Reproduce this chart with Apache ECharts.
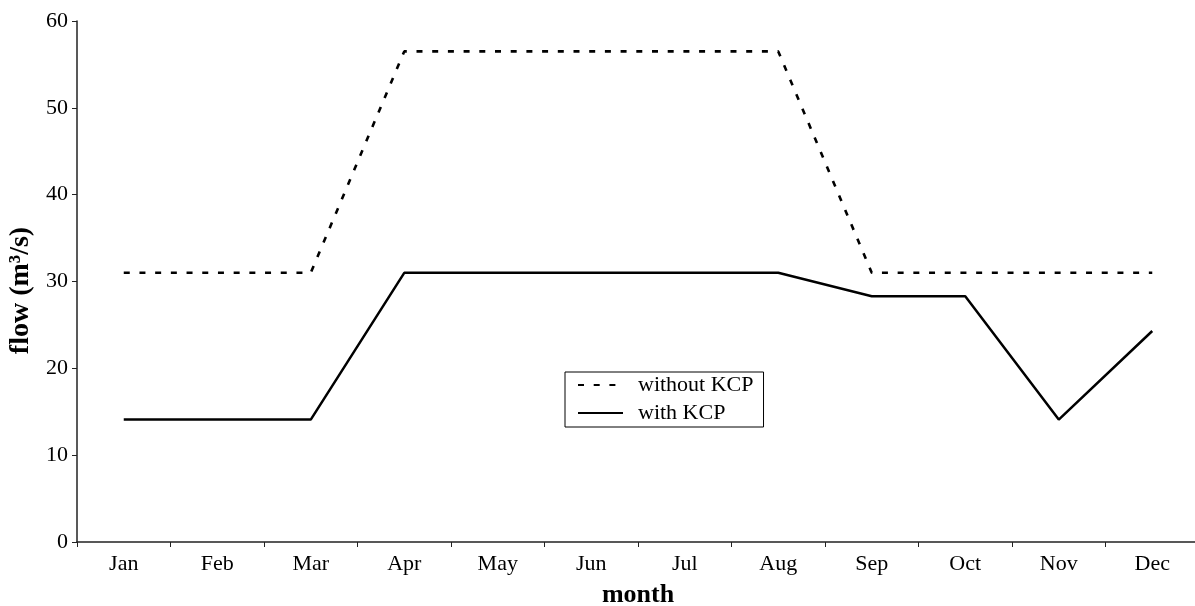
<!DOCTYPE html>
<html>
<head>
<meta charset="utf-8">
<script src="https://cdn.jsdelivr.net/npm/echarts@6/dist/echarts.min.js"></script>
<style>
html,body{margin:0;padding:0;background:#fff;}
#c{width:1195px;height:606px;}
</style>
</head>
<body>
<div id="c"></div>
<script>
var months = ['Jan','Feb','Mar','Apr','May','Jun','Jul','Aug','Sep','Oct','Nov','Dec'];
var withoutKCP = [31, 31, 31, 56.5, 56.5, 56.5, 56.5, 56.5, 31, 31, 31, 31];
var withKCP = [14.1, 14.1, 14.1, 31, 31, 31, 31, 31, 28.3, 28.3, 14.1, 24.3];
var yTicks = [0, 10, 20, 30, 40, 50, 60];

var font = 'Liberation Serif, Times New Roman, serif';
var chart = echarts.init(document.getElementById('c'), null, {renderer: 'canvas'});
chart.setOption({
  animation: false,
  backgroundColor: '#fff',
  textStyle: {fontFamily: font, color: '#000'},
  grid: {left: 77, top: 21, width: 1122, height: 521, containLabel: false, outerBoundsMode: 'none'},
  legend: {
    orient: 'vertical',
    left: 565,
    top: 372,
    padding: [2, 10, 3, 12],
    borderColor: '#000',
    borderWidth: 1,
    itemWidth: 45,
    itemHeight: 20,
    itemGap: 6,
    itemStyle: {opacity: 0},
    textStyle: {fontFamily: font, fontSize: 22, color: '#000', padding: [0, 0, 0, 10]},
    data: ['without KCP', 'with KCP']
  },
  xAxis: {
    type: 'category',
    data: months,
    boundaryGap: true,
    name: 'month',
    nameLocation: 'middle',
    nameGap: 40,
    nameTextStyle: {fontFamily: font, fontSize: 26, fontWeight: 'bold', color: '#000'},
    axisLine: {lineStyle: {color: '#222', width: 1.5}},
    axisTick: {show: true, length: 5, lineStyle: {color: '#222'}},
    axisLabel: {fontFamily: font, fontSize: 22, color: '#000', margin: 11},
    splitLine: {show: false}
  },
  yAxis: {
    type: 'value',
    min: yTicks[0],
    max: yTicks[yTicks.length - 1],
    interval: 10,
    name: 'flow (m³/s)',
    nameLocation: 'middle',
    nameGap: 40,
    nameTextStyle: {fontFamily: font, fontSize: 28, fontWeight: 'bold', color: '#000', padding: [0, 18, 0, 0]},
    axisLine: {show: true, lineStyle: {color: '#222', width: 1.5}},
    axisTick: {show: true, length: 5, lineStyle: {color: '#222'}},
    axisLabel: {fontFamily: font, fontSize: 22, color: '#000', margin: 9},
    splitLine: {show: false}
  },
  series: [
    {
      name: 'without KCP',
      type: 'line',
      data: withoutKCP,
      symbol: 'none',
      lineStyle: {color: '#000', width: 2.6, type: [6, 9.7]},
      itemStyle: {color: '#000'}
    },
    {
      name: 'with KCP',
      type: 'line',
      data: withKCP,
      symbol: 'none',
      lineStyle: {color: '#000', width: 2.5, type: 'solid'},
      itemStyle: {color: '#000'}
    }
  ]
});
</script>
</body>
</html>
